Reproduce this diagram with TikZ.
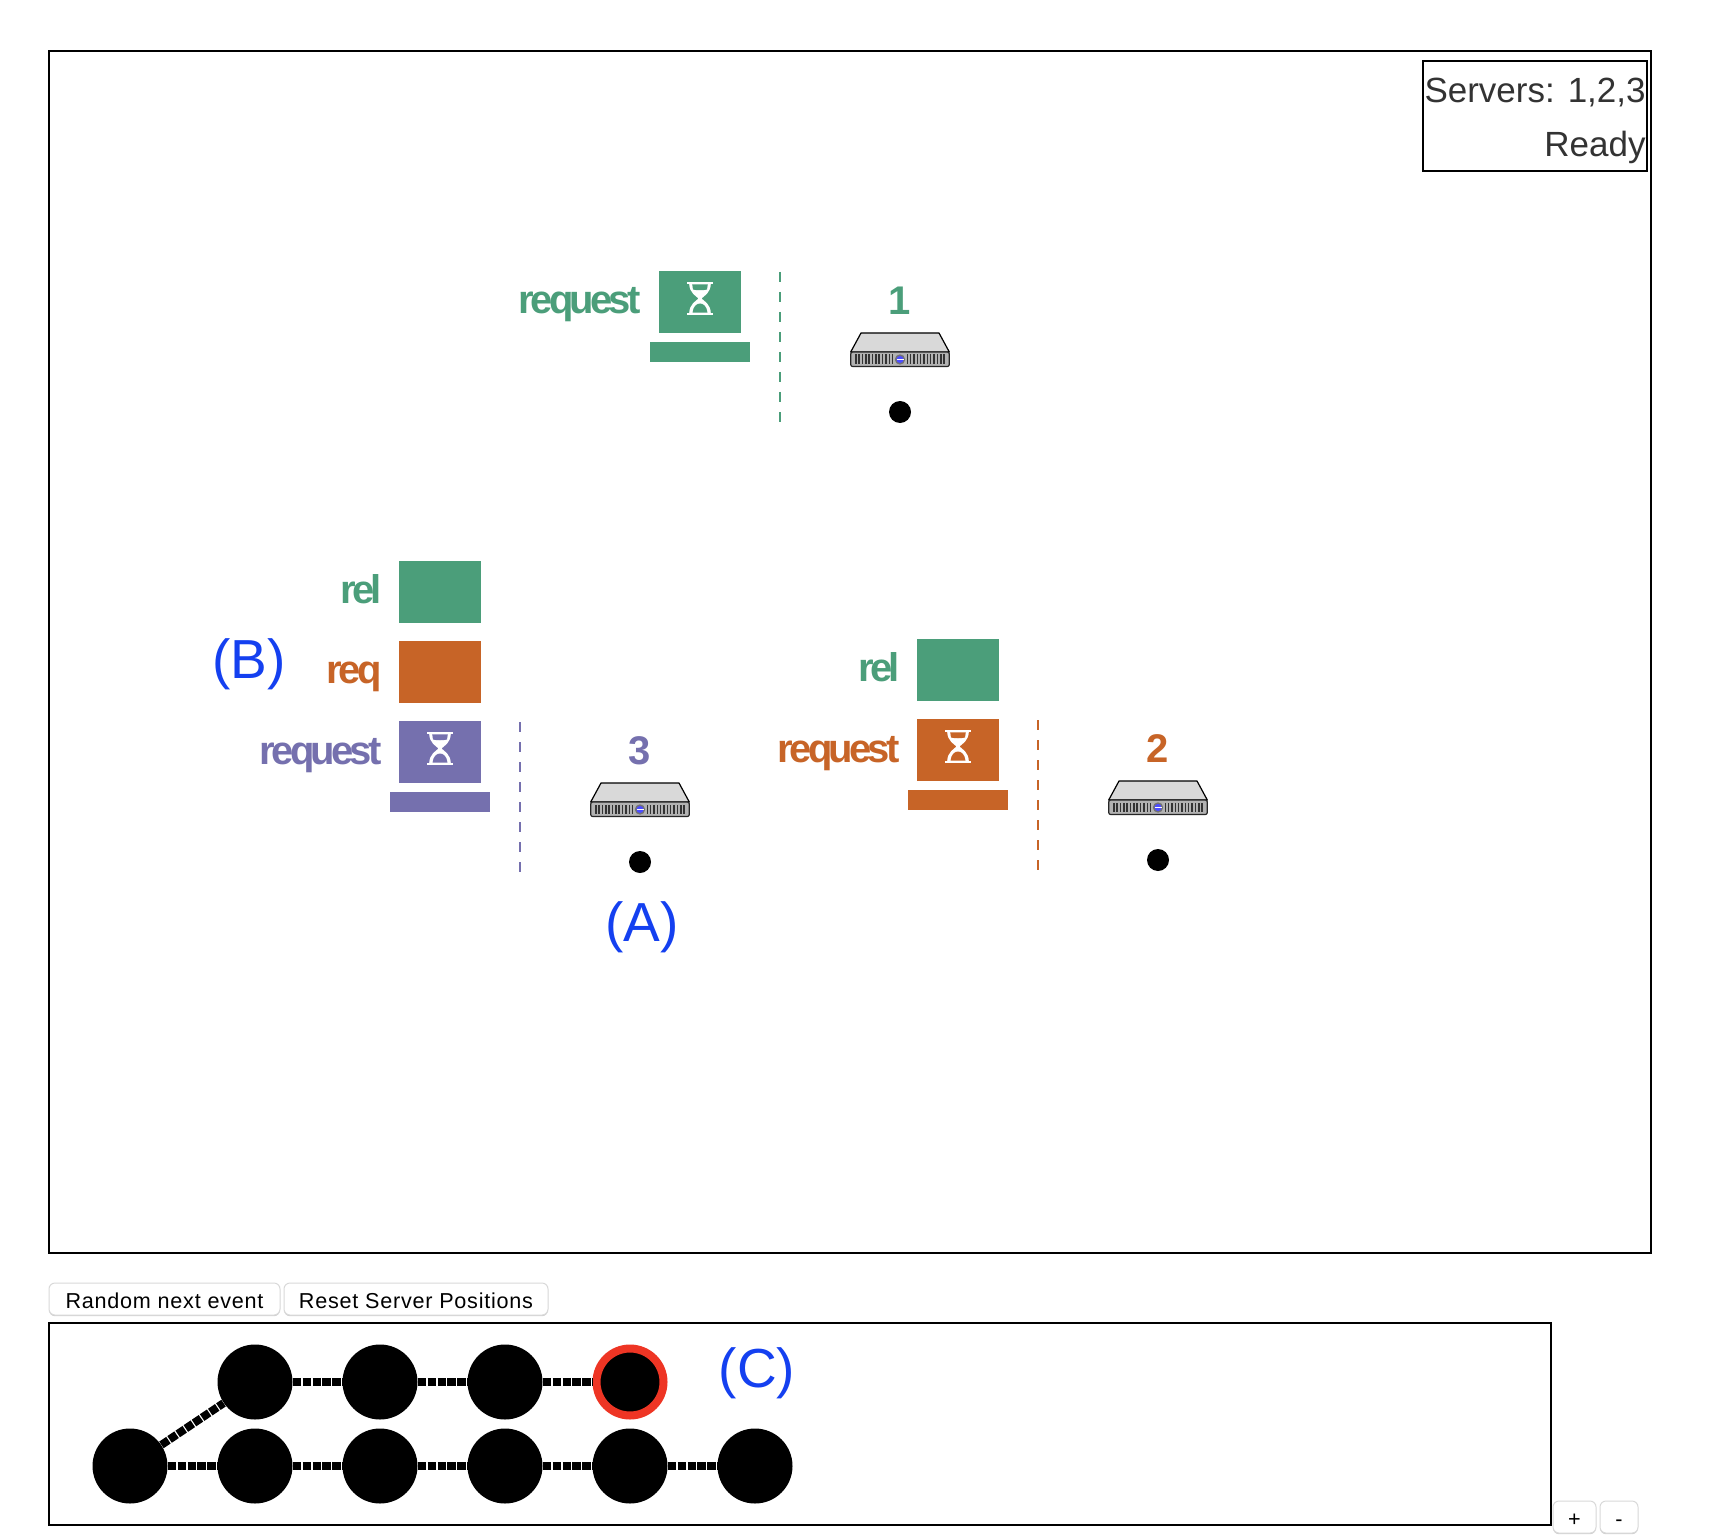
\documentclass[tikz,border=0pt]{standalone}
\usepackage{fontspec}
\setmainfont{Liberation Sans}
\newfontfamily\lblfont[LetterSpace=-9.5]{Liberation Sans}
\newfontfamily\btnfont[LetterSpace=3.5]{Liberation Sans}
\usetikzlibrary{shadows}
\definecolor{grn}{HTML}{4B9E7A}
\definecolor{org}{HTML}{C76427}
\definecolor{pur}{HTML}{7570AE}
\definecolor{lblue}{HTML}{1440F0}
\definecolor{txtgray}{HTML}{333333}
\definecolor{ringred}{HTML}{EE3524}
\tikzset{
  frame/.style={draw=black,line width=1pt,fill=none},
  lbl/.style={font=\lblfont\bfseries\fontsize{20pt}{24pt}\selectfont,inner sep=0pt},
  tag/.style={font=\fontsize{27.5pt}{32pt}\selectfont,text=lblue,inner sep=0pt,anchor=base},
  info/.style={font=\fontsize{17.5pt}{21pt}\selectfont,text=txtgray,inner sep=0pt,anchor=base east},
  slot/.style={rectangle,minimum width=41pt,minimum height=31pt,inner sep=0pt,fill=#1},
  basebar/.style={rectangle,minimum width=50pt,minimum height=10pt,inner sep=0pt,fill=#1},
  divider/.style={draw=#1,line width=1pt,dash pattern=on 5pt off 5pt},
  dotnode/.style={circle,fill=black,minimum size=11pt,inner sep=0pt},
  ev/.style={circle,fill=black,minimum size=37.5pt,inner sep=0pt},
  evcur/.style={circle,fill=black,draw=ringred,line width=4pt,minimum size=33.5pt,inner sep=0pt},
  link/.style={draw=black,line width=4pt,dash pattern=on 4.2pt off 0.7pt},
  btn/.style={rectangle,rounded corners=3pt,draw=black!15,fill=white,line width=0.5pt,inner sep=0pt,
    minimum height=16pt,text height=11pt,text depth=2pt,font=\btnfont\fontsize{10.8pt}{12pt}\selectfont,
    drop shadow={shadow xshift=0pt,shadow yshift=-0.6pt,opacity=.18,fill=black}},
  pics/serverpic/.style={code={
    \draw[fill=black!15!white,draw=black,line width=0.6pt,line join=round] (-39,1) -- (39,1) -- (49.3,20) -- (-49.3,20) -- cycle;
    \draw[fill=black!30,draw=black!85,line width=0.6pt,rounded corners=1pt] (-49.3,20) rectangle (49.3,34.5);
    \foreach \k in {0,...,11} {
      \fill[black!80] ({-45+\k*3.35},22.5) rectangle +(1.5,9.5);
      \fill[black!80] ({6.5+\k*3.35},22.5) rectangle +(1.5,9.5);
    }
    \fill[black!55] (0,27.5) circle (2.6pt);
    \fill[blue!70!white] (0,27.5) circle (1.8pt);
    \fill[white] (-3.5,26.6) rectangle (3.5,28.4);
  }},
  pics/hourglass/.style={code={
    \fill[white] (-12.7,-20.3) rectangle (12.7,-17.7);
    \fill[white] (-12.7,10.7) rectangle (12.7,13.3);
    \fill[white] (-10.8,-18) .. controls (-10.5,-9) and (-4,-6) .. (-1.5,-3.5)
      .. controls (-4,-1) and (-10.5,2) .. (-10.8,11) -- (10.8,11)
      .. controls (10.5,2) and (4,-1) .. (1.5,-3.5)
      .. controls (4,-6) and (10.5,-9) .. (10.8,-18) -- cycle;
    \fill[#1] (-7.8,-17.7) -- (7.8,-17.7) -- (7,-12.5) .. controls (3,-11.5) and (-3,-11.5) .. (-7,-12.5) -- cycle;
    \fill[#1] (-7.5,10.7) .. controls (-6.8,4) and (-3,1.5) .. (0,1.5) .. controls (3,1.5) and (6.8,4) .. (7.5,10.7) -- cycle;
  }},
}
\begin{document}
\begin{tikzpicture}[x=0.5pt,y=-0.5pt]
\useasboundingbox (0,0) rectangle (1712,1540);
\fill[white] (0,0) rectangle (1712,1540);

% main frame
\node[frame,rectangle,minimum width=801pt,minimum height=601pt,inner sep=0pt,anchor=north west] (mainframe) at (48,50) {};
\node[frame,rectangle,minimum width=112pt,minimum height=55pt,inner sep=0pt,anchor=north west] (legend) at (1422,60) {};
\node[info] (servers) at (1646,103) {Servers: 1,2,3};
\node[info] (ready) at (1646,157) {Ready};

% server 1
\node[lbl,text=grn,anchor=base east] (l1req) at (641,314) {request};
\node[slot=grn] (b1req) at (700,302) {};
\pic at (b1req.center) {hourglass=grn};
\node[basebar=grn] (bar1) at (700,352) {};
\coordinate (d1a) at (780,272); \coordinate (d1b) at (780,422);
\draw[divider=grn] (d1a) -- (d1b);
\node[lbl,text=grn,anchor=base] (n1) at (900,315) {1};
\pic at (900,332) {serverpic};
\node[dotnode] (dot1) at (900,412) {};

% server 3
\node[lbl,text=grn,anchor=base east] (l3rel) at (382,603) {rel};
\node[slot=grn] (b3rel) at (440,592) {};
\node[lbl,text=org,anchor=base east] (l3rq) at (382,683) {req};
\node[slot=org] (b3rq) at (440,672) {};
\node[lbl,text=pur,anchor=base east] (l3req) at (382,764) {request};
\node[slot=pur] (b3req) at (440,752) {};
\pic at (b3req.center) {hourglass=pur};
\node[basebar=pur] (bar3) at (440,802) {};
\coordinate (d3a) at (520,722); \coordinate (d3b) at (520,872);
\draw[divider=pur] (d3a) -- (d3b);
\node[lbl,text=pur,anchor=base] (n3) at (640,764) {3};
\pic at (640,782) {serverpic};
\node[dotnode] (dot3) at (640,862) {};

% server 2
\node[lbl,text=grn,anchor=base east] (l2rel) at (900,681) {rel};
\node[slot=grn] (b2rel) at (958,670) {};
\node[lbl,text=org,anchor=base east] (l2req) at (900,762) {request};
\node[slot=org] (b2req) at (958,750) {};
\pic at (b2req.center) {hourglass=org};
\node[basebar=org] (bar2) at (958,800) {};
\coordinate (d2a) at (1038,720); \coordinate (d2b) at (1038,870);
\draw[divider=org] (d2a) -- (d2b);
\node[lbl,text=org,anchor=base] (n2) at (1158,762) {2};
\pic at (1158,780) {serverpic};
\node[dotnode] (dot2) at (1158,860) {};

% annotations
\node[tag] (tagA) at (642,941) {(A)};
\node[tag] (tagB) at (249,678) {(B)};
\node[tag] (tagC) at (757,1387) {(C)};

% buttons
\node[btn,minimum width=115.5pt] (btnrand) at (164.5,1299) {Random next event};
\node[btn,minimum width=132pt] (btnreset) at (416,1299) {Reset Server Positions};

% timeline
\node[frame,rectangle,minimum width=751pt,minimum height=101pt,inner sep=0pt,anchor=north west] (tlframe) at (48,1322) {};
\node[ev] (t1) at (255,1382) {};
\node[ev] (t2) at (380,1382) {};
\node[ev] (t3) at (505,1382) {};
\node[evcur] (t4) at (630,1382) {};
\node[ev] (r0) at (130,1466) {};
\node[ev] (r1) at (255,1466) {};
\node[ev] (r2) at (380,1466) {};
\node[ev] (r3) at (505,1466) {};
\node[ev] (r4) at (630,1466) {};
\node[ev] (r5) at (755,1466) {};
\draw[link] (r0) -- (t1);
\draw[link] (t1) -- (t2);
\draw[link] (t2) -- (t3);
\draw[link] (t3) -- (t4);
\draw[link] (r0) -- (r1);
\draw[link] (r1) -- (r2);
\draw[link] (r2) -- (r3);
\draw[link] (r3) -- (r4);
\draw[link] (r4) -- (r5);

% zoom buttons
\node[btn,minimum width=21.5pt] (btnplus) at (1574.5,1517) {+};
\node[btn,minimum width=19pt] (btnminus) at (1619,1517) {-};
\end{tikzpicture}
\end{document}
